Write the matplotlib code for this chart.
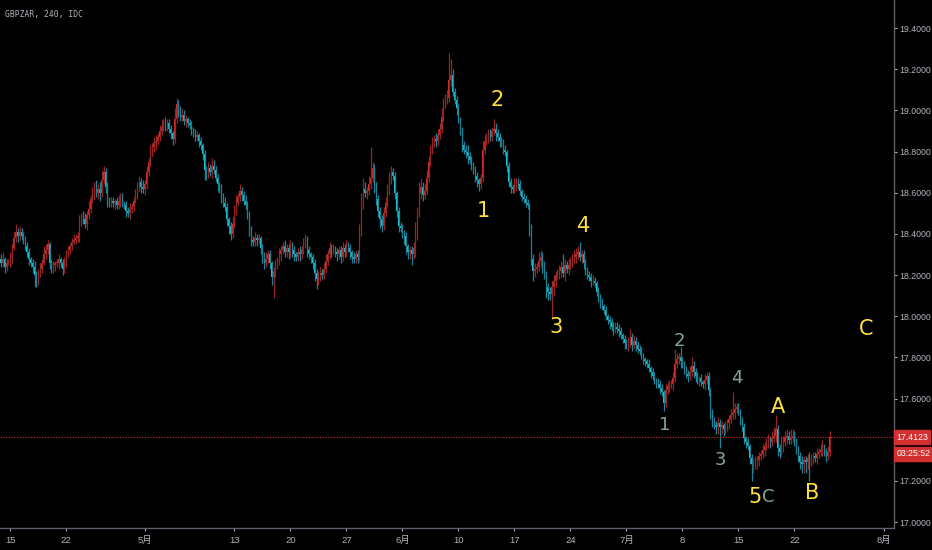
import matplotlib.pyplot as plt
import matplotlib.transforms as mtransforms
import numpy as np

# 4h closes, GBPZAR (one value per candle)
closes = [
    18.26, 18.28, 18.24, 18.26, 18.26, 18.28, 18.33, 18.38, 18.41, 18.39, 18.41, 18.39, 18.38, 18.34, 18.31,
    18.28, 18.26, 18.24, 18.20, 18.18, 18.21, 18.23, 18.26, 18.30, 18.32, 18.35, 18.26, 18.23, 18.25, 18.26,
    18.26, 18.28, 18.26, 18.23, 18.26, 18.30, 18.32, 18.34, 18.36, 18.37, 18.38, 18.39, 18.46, 18.48, 18.47,
    18.45, 18.49, 18.52, 18.57, 18.60, 18.63, 18.60, 18.62, 18.60, 18.66, 18.70, 18.63, 18.57, 18.55, 18.56,
    18.55, 18.56, 18.54, 18.56, 18.58, 18.55, 18.54, 18.51, 18.50, 18.52, 18.53, 18.56, 18.59, 18.63, 18.65,
    18.63, 18.62, 18.64, 18.70, 18.75, 18.80, 18.82, 18.84, 18.85, 18.87, 18.90, 18.92, 18.94, 18.93, 18.94,
    18.91, 18.89, 18.86, 18.96, 19.03, 19.00, 18.97, 18.98, 18.95, 18.96, 18.94, 18.93, 18.91, 18.89, 18.87,
    18.88, 18.85, 18.83, 18.79, 18.71, 18.69, 18.72, 18.70, 18.73, 18.71, 18.67, 18.64, 18.62, 18.58, 18.55,
    18.53, 18.47, 18.44, 18.40, 18.45, 18.51, 18.55, 18.58, 18.61, 18.59, 18.56, 18.54, 18.50, 18.42, 18.37,
    18.36, 18.38, 18.37, 18.38, 18.33, 18.29, 18.26, 18.28, 18.30, 18.26, 18.19, 18.22, 18.25, 18.27, 18.30,
    18.32, 18.34, 18.31, 18.33, 18.31, 18.34, 18.32, 18.30, 18.29, 18.31, 18.30, 18.32, 18.35, 18.37, 18.32,
    18.30, 18.29, 18.26, 18.21, 18.18, 18.20, 18.21, 18.20, 18.23, 18.27, 18.30, 18.33, 18.32, 18.33, 18.31,
    18.30, 18.32, 18.29, 18.33, 18.31, 18.34, 18.33, 18.31, 18.29, 18.28, 18.30, 18.29, 18.41, 18.54, 18.62,
    18.60, 18.61, 18.64, 18.67, 18.72, 18.64, 18.57, 18.51, 18.47, 18.44, 18.50, 18.55, 18.61, 18.66, 18.70,
    18.68, 18.60, 18.51, 18.44, 18.43, 18.41, 18.39, 18.34, 18.31, 18.32, 18.30, 18.33, 18.42, 18.50, 18.60,
    18.63, 18.59, 18.61, 18.67, 18.75, 18.81, 18.84, 18.86, 18.85, 18.88, 18.91, 18.97, 19.03, 19.05, 19.06,
    19.15, 19.17, 19.09, 19.05, 19.01, 18.96, 18.90, 18.83, 18.81, 18.80, 18.78, 18.76, 18.73, 18.71, 18.68,
    18.66, 18.64, 18.67, 18.81, 18.85, 18.87, 18.88, 18.87, 18.90, 18.91, 18.89, 18.87, 18.85, 18.84, 18.81,
    18.80, 18.73, 18.65, 18.63, 18.62, 18.64, 18.65, 18.64, 18.61, 18.58, 18.57, 18.55, 18.54, 18.42, 18.28,
    18.22, 18.23, 18.24, 18.27, 18.29, 18.25, 18.21, 18.14, 18.12, 18.11, 18.14, 18.17, 18.20, 18.21, 18.22,
    18.24, 18.21, 18.25, 18.23, 18.25, 18.26, 18.28, 18.29, 18.30, 18.31, 18.29, 18.30, 18.26, 18.22, 18.20,
    18.19, 18.17, 18.17, 18.16, 18.12, 18.09, 18.07, 18.05, 18.03, 18.00, 17.98, 17.97, 17.95, 17.94, 17.95,
    17.94, 17.93, 17.91, 17.89, 17.87, 17.86, 17.87, 17.90, 17.86, 17.88, 17.86, 17.84, 17.83, 17.81, 17.79,
    17.78, 17.77, 17.75, 17.73, 17.71, 17.69, 17.68, 17.67, 17.65, 17.63, 17.58, 17.64, 17.66, 17.67, 17.67,
    17.70, 17.77, 17.79, 17.80, 17.78, 17.77, 17.74, 17.72, 17.71, 17.73, 17.76, 17.73, 17.71, 17.69, 17.70,
    17.68, 17.67, 17.69, 17.71, 17.64, 17.54, 17.49, 17.47, 17.46, 17.48, 17.46, 17.47, 17.45, 17.47, 17.48,
    17.50, 17.52, 17.53, 17.55, 17.56, 17.54, 17.50, 17.46, 17.41, 17.39, 17.37, 17.31, 17.28, 17.29, 17.30,
    17.30, 17.32, 17.33, 17.35, 17.37, 17.38, 17.40, 17.39, 17.41, 17.42, 17.45, 17.36, 17.34, 17.37, 17.39,
    17.41, 17.42, 17.40, 17.41, 17.42, 17.40, 17.36, 17.32, 17.29, 17.28, 17.30, 17.29, 17.31, 17.30, 17.31,
    17.32, 17.31, 17.33, 17.34, 17.35, 17.36, 17.34, 17.32, 17.34, 17.4123,
]

# wick lengths above / below the body, in hundredths
upper_wick = [
    2, 3, 1, 2, 2, 3, 2, 3, 4, 2, 3, 2, 2, 1, 2,
    2, 1, 2, 3, 2, 2, 3, 2, 4, 3, 2, 1, 2, 2, 1,
    2, 2, 1, 2, 3, 2, 2, 1, 2, 3, 2, 2, 3, 2, 3,
    3, 2, 4, 2, 3, 2, 3, 2, 3, 5, 3, 2, 2, 1, 2,
    2, 1, 2, 3, 2, 2, 1, 2, 2, 3, 2, 2, 3, 2, 3,
    2, 3, 2, 3, 2, 3, 2, 3, 3, 2, 3, 4, 2, 3, 2,
    2, 2, 1, 5, 3, 2, 2, 3, 2, 2, 1, 2, 2, 1, 2,
    2, 1, 2, 1, 2, 2, 3, 2, 4, 3, 2, 2, 1, 2, 2,
    3, 2, 1, 2, 3, 3, 4, 2, 3, 2, 2, 3, 2, 1, 2,
    2, 3, 2, 2, 1, 2, 2, 3, 2, 2, 1, 2, 3, 2, 3,
    2, 2, 3, 2, 2, 3, 2, 2, 1, 2, 3, 2, 3, 3, 2,
    2, 1, 1, 2, 2, 2, 3, 2, 3, 3, 2, 3, 2, 2, 1,
    2, 2, 2, 3, 2, 3, 2, 2, 1, 2, 2, 2, 4, 6, 5,
    3, 2, 4, 15, 3, 2, 1, 2, 2, 2, 3, 3, 3, 4, 3,
    2, 2, 1, 2, 2, 2, 1, 2, 1, 2, 2, 3, 4, 3, 5,
    4, 2, 3, 4, 3, 2, 3, 2, 3, 3, 3, 4, 3, 3, 4,
    13, 8, 3, 2, 2, 2, 1, 2, 2, 2, 3, 2, 2, 2, 2,
    2, 1, 2, 4, 3, 2, 3, 3, 2, 5, 3, 2, 2, 2, 2,
    2, 1, 2, 2, 1, 3, 2, 2, 2, 1, 2, 2, 2, 1, 3,
    2, 3, 2, 4, 3, 2, 2, 1, 2, 2, 3, 3, 2, 2, 3,
    3, 6, 3, 2, 3, 3, 2, 3, 3, 3, 5, 2, 2, 2, 2,
    2, 2, 3, 2, 1, 2, 2, 2, 1, 2, 1, 2, 2, 2, 2,
    2, 2, 2, 1, 2, 2, 3, 4, 2, 3, 2, 2, 2, 2, 1,
    1, 1, 2, 1, 2, 2, 1, 2, 2, 2, 1, 3, 2, 2, 2,
    3, 7, 3, 2, 5, 2, 1, 2, 2, 3, 4, 2, 2, 2, 1,
    2, 1, 3, 2, 2, 1, 1, 2, 2, 3, 2, 2, 1, 2, 2,
    2, 3, 10, 3, 2, 2, 1, 1, 2, 1, 2, 1, 2, 2, 2,
    2, 2, 2, 3, 2, 3, 3, 2, 3, 4, 7, 2, 2, 5, 3,
    3, 3, 2, 4, 3, 2, 1, 1, 2, 3, 2, 2, 2, 3, 2,
    2, 2, 3, 2, 3, 4, 2, 2, 3, 3,
]
lower_wick = [
    2, 2, 3, 2, 1, 2, 2, 1, 2, 3, 2, 2, 3, 2, 2,
    3, 2, 3, 6, 4, 3, 2, 2, 1, 2, 2, 3, 2, 2, 3,
    2, 3, 2, 3, 2, 2, 1, 2, 2, 1, 2, 2, 3, 2, 2,
    2, 3, 2, 2, 2, 3, 2, 3, 4, 2, 2, 3, 4, 2, 2,
    2, 3, 2, 2, 3, 2, 2, 3, 2, 3, 2, 2, 1, 2, 2,
    3, 2, 3, 2, 2, 2, 2, 2, 3, 2, 2, 2, 2, 3, 3,
    2, 3, 3, 2, 2, 3, 2, 2, 2, 3, 2, 2, 3, 2, 2,
    2, 3, 2, 3, 5, 3, 2, 2, 3, 2, 2, 3, 2, 3, 2,
    2, 3, 4, 3, 2, 2, 2, 1, 2, 3, 2, 2, 3, 3, 3,
    2, 2, 3, 2, 3, 3, 3, 2, 2, 3, 4, 10, 3, 2, 2,
    3, 2, 2, 2, 3, 2, 3, 3, 2, 2, 3, 2, 2, 2, 3,
    2, 3, 3, 4, 5, 3, 3, 2, 2, 2, 2, 2, 3, 2, 2,
    3, 2, 3, 2, 2, 2, 2, 3, 3, 2, 2, 3, 2, 2, 2,
    2, 3, 2, 2, 2, 4, 3, 3, 4, 3, 2, 2, 2, 2, 2,
    2, 3, 3, 3, 2, 3, 4, 4, 3, 3, 5, 2, 4, 5, 2,
    3, 3, 2, 2, 2, 2, 2, 2, 3, 2, 2, 2, 2, 2, 2,
    2, 3, 2, 2, 3, 2, 2, 3, 2, 3, 4, 2, 2, 2, 3,
    3, 3, 2, 2, 2, 2, 3, 2, 2, 2, 4, 2, 3, 2, 2,
    2, 3, 2, 3, 2, 2, 3, 2, 2, 2, 2, 2, 2, 3, 3,
    5, 3, 2, 2, 3, 4, 3, 5, 4, 3, 12, 4, 3, 2, 3,
    3, 2, 4, 2, 3, 2, 2, 2, 3, 2, 2, 3, 3, 2, 2,
    2, 3, 2, 2, 2, 2, 3, 2, 2, 2, 2, 3, 2, 3, 2,
    2, 3, 2, 2, 3, 2, 3, 2, 3, 2, 3, 2, 2, 2, 2,
    2, 2, 2, 3, 2, 2, 3, 2, 3, 2, 4, 2, 2, 3, 2,
    3, 2, 2, 2, 3, 2, 2, 2, 3, 2, 2, 3, 3, 2, 3,
    2, 2, 3, 2, 3, 4, 3, 2, 3, 3, 10, 3, 3, 2, 3,
    3, 2, 2, 3, 2, 2, 3, 2, 3, 3, 2, 3, 8, 4, 3,
    4, 3, 2, 2, 3, 2, 2, 3, 2, 2, 3, 4, 3, 2, 3,
    2, 3, 2, 2, 2, 3, 3, 3, 3, 4, 4, 5, 3, 10, 3,
    3, 2, 3, 2, 2, 3, 2, 3, 2, 2,
]

# x ticks are bar numbers (6 bars per trading day, no weekends)
tick_pos = [5, 35, 77, 125, 155, 185, 215, 245, 275, 305, 335, 365, 395, 425, 473]
tick_labels = ['15', '22', '5月', '13', '20', '27', '6月', '10', '17', '24', '7月', '8', '15', '22', '8月']
price_ticks = [17.0, 17.2, 17.4, 17.6, 17.8, 18.0, 18.2, 18.4, 18.6, 18.8, 19.0, 19.2, 19.4]
last_price = 17.4123
countdown = '03:25:52'

# elliott wave counts: (label, bar, price)
waves_big = [('1', 258.2, 18.51), ('2', 265.7, 19.05), ('3', 297.3, 17.95), ('4', 312.3, 18.44),
             ('5', 404.0, 17.12), ('A', 416.2, 17.56), ('B', 434.4, 17.14), ('C', 463.3, 17.94)]
waves_small = [('1', 355.6, 17.47), ('2', 363.2, 17.88), ('3', 385.6, 17.30), ('4', 394.2, 17.70),
               ('C', 410.8, 17.12)]

n = min(len(closes), len(upper_wick), len(lower_wick))
c = np.array(closes[:n])
o = np.concatenate([[c[0] + 0.02], c[:-1]])
hi = np.maximum(o, c) + np.array(upper_wick[:n]) / 100
lo = np.minimum(o, c) - np.array(lower_wick[:n]) / 100
idx = np.arange(n)
up = c >= o

axis_font = ['Liberation Sans', 'Noto Sans CJK SC']
axis_size = 6.3

RED = '#d32f2f'
CYAN = '#20c4dc'
TXT = '#b2b5be'

fig = plt.figure(figsize=(9.32, 5.5), dpi=100, facecolor='black')
ax = fig.add_axes([0, 22 / 550, 894 / 932, 528 / 550], facecolor='black')

wick_col = np.where(up, '#9a2424', '#16869a')
body_col = np.where(up, RED, CYAN)
ax.vlines(idx, lo, hi, colors=wick_col, lw=0.9)
body = np.maximum(np.abs(c - o), 0.003)
ax.bar(idx, body, bottom=np.minimum(o, c), width=0.7, color=body_col, linewidth=0)

ax.axhline(last_price, color=RED, lw=0.8, ls=(0, (1, 1.5)))

for t, x, y in waves_big:
    ax.text(x, y, t, color='#ffe13d', fontsize=15, ha='center', va='center', family='DejaVu Sans')
for t, x, y in waves_small:
    ax.text(x, y, t, color='#86a890', fontsize=13, ha='center', va='center', family='DejaVu Sans')

ax.set_xlim(-0.54, 478.3)
ax.set_ylim(16.971, 19.5364)

ax.yaxis.tick_right()
ax.set_yticks(price_ticks)
# the 17.4 label sits under the last-price tag, as on the original
ax.set_yticklabels(['' if abs(p - last_price) < 0.05 else f'{p:.4f}' for p in price_ticks])
ax.set_xticks(tick_pos)
ax.set_xticklabels(tick_labels)
ax.tick_params(axis='both', colors=TXT, labelsize=axis_size, length=2.5, width=0.8, pad=1.5)
ax.tick_params(axis='x', labelsize=6.8, pad=3)
for lab in ax.get_xticklabels() + ax.get_yticklabels():
    lab.set_family(axis_font)

for s in ['top', 'left']:
    ax.spines[s].set_visible(False)
for s in ['right', 'bottom']:
    ax.spines[s].set_color('#5d606b')
    ax.spines[s].set_linewidth(1)

# last price tag and bar countdown on the price scale
trans = mtransforms.blended_transform_factory(ax.transAxes, ax.transData)
for txt, dy in [(f'{last_price:.4f}', 0), (countdown, -12)]:
    ax.annotate(txt, xy=(1, last_price), xycoords=trans, xytext=(1.6, dy),
                textcoords='offset points', ha='left', va='center', color='white',
                fontsize=axis_size, family=axis_font, annotation_clip=False,
                bbox=dict(boxstyle='square,pad=0.25', fc=RED, ec=RED))

fig.text(5 / 932, 1 - 15 / 550, 'GBPZAR, 240, IDC', color=TXT, fontsize=5.8,
         family='DejaVu Sans Mono', ha='left', va='center')

fig.savefig('out.png', dpi=100, facecolor='black')
